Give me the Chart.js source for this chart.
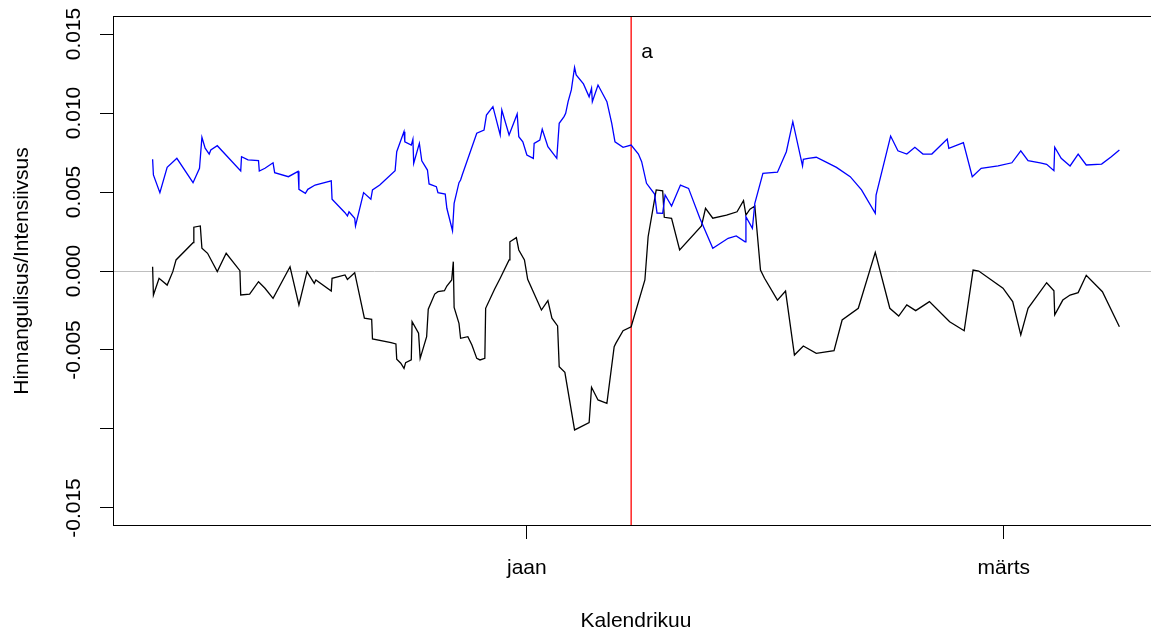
<!DOCTYPE html>
<html>
<head>
<meta charset="utf-8">
<script src="https://cdn.jsdelivr.net/npm/chart.js@4.4.1/dist/chart.umd.min.js"></script>
<style>
  html, body { margin: 0; padding: 0; background: #fff; overflow: hidden; }
  canvas { display: block; }
</style>
</head>
<body>
<canvas id="c" width="1160" height="634"></canvas>
<script>
// Days relative to 1 January (negative = November/December)
const blueDays = [-46.3,-46.2,-45.4,-44.5,-43.3,-41.3,-40.5,-40.2,-39.8,-39.3,
  -39.1,-38.3,-35.4,-35.3,-34.5,-33.2,-33.1,-32.4,-31.4,-31.2,
  -29.5,-28.3,-28.2,-27.4,-27.1,-26.2,-24.2,-24.1,-22.5,-22.2,
  -22.0,-21.3,-21.2,-20.2,-19.3,-19.1,-18.2,-16.3,-16.1,-15.2,
  -15.1,-14.3,-14.1,-14.0,-13.3,-13.0,-12.3,-12.1,-11.2,-11.0,
  -10.1,-9.9,-9.2,-9.0,-8.4,-8.2,-8.0,-6.2,-5.3,-5.0,
  -4.2,-3.3,-3.1,-2.2,-1.2,-1.0,-0.5,0.0,0.8,0.9,
  1.6,1.9,2.6,3.7,4.0,4.6,4.8,5.1,5.5,5.9,
  6.1,7.0,7.7,8.0,8.1,8.8,9.9,10.5,10.9,11.9,
  12.9,13.8,14.2,14.8,15.8,16.1,16.8,17.1,17.9,19.0,
  20.0,21.4,23.0,24.9,25.9,27.0,27.1,27.9,28.2,29.2,
  31.0,32.1,32.9,34.1,34.2,34.8,35.8,36.9,38.3,40.0,
  41.4,43.1,43.2,45.0,45.9,47.0,48.0,49.0,50.1,52.0,
  52.2,54.0,55.1,56.2,58.3,60.0,61.1,62.0,63.5,64.3,
  65.2,65.3,66.1,67.2,68.2,69.2,71.1,72.3,73.3];
const blueVals = [0.00707,0.00608,0.00496,0.00656,0.00713,0.00559,0.00650,0.00846,0.00777,0.00740,
  0.00766,0.00793,0.00633,0.00723,0.00703,0.00698,0.00633,0.00650,0.00685,0.00622,
  0.00597,0.00631,0.00517,0.00492,0.00517,0.00544,0.00570,0.00454,0.00369,0.00348,
  0.00375,0.00334,0.00285,0.00496,0.00454,0.00513,0.00544,0.00635,0.00755,0.00882,
  0.00818,0.00797,0.00834,0.00682,0.00808,0.00698,0.00639,0.00551,0.00534,0.00496,
  0.00487,0.00397,0.00255,0.00428,0.00559,0.00576,0.00608,0.00872,0.00892,0.00987,
  0.01040,0.00861,0.01019,0.00861,0.00994,0.00850,0.00818,0.00734,0.00713,0.00808,
  0.00829,0.00897,0.00787,0.00713,0.00935,0.00977,0.00998,0.01072,0.01146,0.01289,
  0.01241,0.01184,0.01103,0.01156,0.01072,0.01177,0.01072,0.00935,0.00818,0.00783,
  0.00797,0.00740,0.00692,0.00555,0.00487,0.00367,0.00365,0.00481,0.00411,0.00544,
  0.00523,0.00334,0.00144,0.00207,0.00222,0.00185,0.00344,0.00270,0.00428,0.00618,
  0.00625,0.00755,0.00945,0.00665,0.00707,0.00713,0.00720,0.00692,0.00656,0.00597,
  0.00513,0.00365,0.00481,0.00854,0.00761,0.00740,0.00783,0.00740,0.00740,0.00835,
  0.00777,0.00812,0.00597,0.00650,0.00665,0.00685,0.00761,0.00698,0.00685,0.00675,
  0.00635,0.00783,0.00713,0.00665,0.00740,0.00671,0.00677,0.00723,0.00766];

const blackDays = [-46.3,-46.2,-45.5,-44.5,-43.8,-43.4,-41.3,-41.2,-40.4,-40.2,
  -39.5,-38.3,-37.2,-35.5,-35.4,-34.3,-33.2,-32.4,-31.4,-29.3,
  -28.2,-27.2,-26.3,-26.1,-24.2,-24.1,-22.5,-22.2,-21.3,-20.1,
  -19.2,-19.1,-16.8,-16.2,-16.1,-15.6,-15.2,-15.0,-14.3,-14.2,
  -13.4,-13.2,-12.4,-12.2,-11.4,-11.0,-10.2,-9.9,-9.3,-9.1,
  -9.0,-8.4,-8.2,-7.3,-6.8,-6.2,-5.8,-5.2,-5.1,-4.0,
  -3.3,-2.2,-2.1,-1.3,-1.0,-0.3,0.1,1.8,2.6,3.1,
  3.8,4.0,4.7,5.9,6.3,7.7,8.0,8.8,9.9,10.8,
  11.0,11.9,12.9,14.6,15.0,16.0,16.8,17.0,17.9,18.9,
  21.6,22.1,23.0,24.7,26.0,26.8,27.1,27.6,28.2,28.9,
  29.4,31.0,32.0,33.1,34.2,35.8,38.0,39.0,41.0,43.1,
  44.9,46.0,47.0,48.1,49.8,52.3,54.1,55.2,55.9,58.9,
  60.1,61.1,62.0,64.3,65.2,65.3,66.3,67.2,68.2,69.2,
  71.2,73.3];
const blackVals = [0.00027,-0.00152,-0.00046,-0.00089,-0.00004,0.00070,0.00179,0.00277,0.00285,0.00144,
  0.00112,-0.00004,0.00112,0.00002,-0.00152,-0.00146,-0.00068,-0.00109,-0.00173,0.00027,
  -0.00215,-0.00004,-0.00078,-0.00057,-0.00127,-0.00046,-0.00025,-0.00053,-0.00011,-0.00299,
  -0.00306,-0.00430,-0.00454,-0.00462,-0.00559,-0.00584,-0.00616,-0.00580,-0.00563,-0.00321,
  -0.00394,-0.00553,-0.00416,-0.00242,-0.00146,-0.00131,-0.00125,-0.00095,-0.00057,0.00059,
  -0.00230,-0.00331,-0.00426,-0.00416,-0.00468,-0.00553,-0.00563,-0.00553,-0.00236,-0.00116,
  -0.00046,0.00070,0.00185,0.00211,0.00133,0.00070,-0.00053,-0.00247,-0.00188,-0.00299,
  -0.00348,-0.00606,-0.00641,-0.01006,-0.00996,-0.00960,-0.00736,-0.00816,-0.00837,-0.00479,
  -0.00458,-0.00378,-0.00353,-0.00057,0.00217,0.00513,0.00508,0.00340,0.00334,0.00133,
  0.00285,0.00397,0.00334,0.00354,0.00375,0.00445,0.00354,0.00391,0.00411,0.00006,
  -0.00046,-0.00184,-0.00127,-0.00532,-0.00475,-0.00521,-0.00504,-0.00310,-0.00236,0.00118,
  -0.00236,-0.00285,-0.00215,-0.00251,-0.00194,-0.00321,-0.00378,0.00006,0.00000,-0.00109,
  -0.00194,-0.00405,-0.00236,-0.00074,-0.00125,-0.00278,-0.00184,-0.00152,-0.00137,-0.00027,
  -0.00131,-0.00353];

const xTickValues = [0, 59];
const xTickLabels = ['jaan', 'märts'];
const yTickValues = [-0.015, -0.010, -0.005, 0.000, 0.005, 0.010, 0.015];
const yTickLabels = ['-0.015', '', '-0.005', '0.000', '0.005', '0.010', '0.015'];
const markerDay = 12.9;
const markerText = 'a';
const markerTextY = 0.0135;

const X_MIN = -51.2, X_MAX = 78.2;
const Y_MIN = -0.01614, Y_MAX = 0.01614;
const FONT = { family: "'Liberation Sans', Arial, sans-serif", size: 21 };

const toPts = (xs, ys) => xs.map((x, i) => ({ x: x, y: ys[i] }));

const framePlugin = {
  id: 'frame',
  afterDraw(chart) {
    const { ctx, chartArea: a, scales } = chart;
    ctx.save();
    ctx.strokeStyle = '#000';
    ctx.lineWidth = 1;
    ctx.strokeRect(a.left + 0.5, a.top + 0.5, a.right - a.left - 1, a.bottom - a.top - 1);
    ctx.fillStyle = '#000';
    ctx.font = FONT.size + 'px ' + FONT.family;
    ctx.textAlign = 'center';
    ctx.textBaseline = 'alphabetic';
    ctx.fillText(markerText, scales.x.getPixelForValue(markerDay) + 16, scales.y.getPixelForValue(markerTextY));
    ctx.restore();
  }
};

new Chart(document.getElementById('c'), {
  type: 'line',
  data: {
    datasets: [
      { data: toPts(blueDays, blueVals), borderColor: '#0000FF', borderWidth: 1.3, pointRadius: 0, tension: 0, fill: false },
      { data: toPts(blackDays, blackVals), borderColor: '#000000', borderWidth: 1.3, pointRadius: 0, tension: 0, fill: false },
      { data: [{ x: markerDay, y: Y_MIN }, { x: markerDay, y: Y_MAX }], borderColor: '#FF0000', borderWidth: 1.3, pointRadius: 0, fill: false }
    ]
  },
  options: {
    responsive: false,
    animation: false,
    devicePixelRatio: 1,
    layout: { padding: { top: 16, right: 1, left: 0, bottom: 0 } },
    plugins: { legend: { display: false }, tooltip: { enabled: false } },
    scales: {
      x: {
        type: 'linear', position: 'bottom', min: X_MIN, max: X_MAX,
        afterBuildTicks: s => { s.ticks = xTickValues.map(v => ({ value: v })); },
        afterFit: s => { s.height = 108; },
        border: { display: false },
        grid: { drawOnChartArea: false, drawTicks: true, tickLength: 13, tickColor: '#000', lineWidth: 1 },
        ticks: {
          autoSkip: false, maxRotation: 0, minRotation: 0, padding: 17, color: '#000', font: FONT,
          callback: v => { const i = xTickValues.indexOf(v); return i >= 0 ? xTickLabels[i] : ''; }
        },
        title: { display: true, text: 'Kalendrikuu', color: '#000', font: FONT, padding: { top: 0, bottom: 0 } }
      },
      y: {
        type: 'linear', position: 'left', min: Y_MIN, max: Y_MAX,
        afterBuildTicks: s => { s.ticks = yTickValues.map(v => ({ value: v })); },
        afterFit: s => { s.width = 113; },
        border: { display: false },
        grid: {
          drawOnChartArea: true, drawTicks: true, tickLength: 13, tickColor: '#000', lineWidth: 1,
          color: c => (c.tick && Math.abs(c.tick.value) < 1e-9) ? '#BEBEBE' : 'rgba(0,0,0,0)'
        },
        ticks: {
          autoSkip: false, minRotation: 90, maxRotation: 90, crossAlign: 'center', padding: -4,
          color: '#000', font: FONT,
          callback: v => { const i = yTickValues.findIndex(t => Math.abs(t - v) < 1e-9); return i >= 0 ? yTickLabels[i] : ''; }
        },
        title: { display: true, text: 'Hinnangulisus/Intensiivsus', color: '#000', font: FONT, padding: { top: 10, bottom: 0 } }
      }
    }
  },
  plugins: [framePlugin]
});
</script>
</body>
</html>
